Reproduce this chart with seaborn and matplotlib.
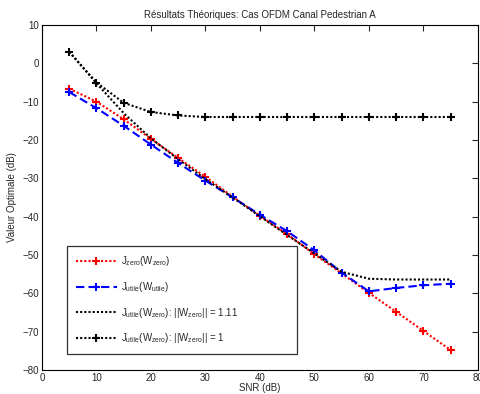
import numpy as np
import pandas as pd
import matplotlib
matplotlib.use('Agg')
import matplotlib.pyplot as plt
import seaborn as sns

# SNR points (dB)
snr = [5, 10, 15, 20, 25, 30, 35, 40, 45, 50, 55, 60, 65, 70, 75]

# optimal values (dB)
j_zero = [-6.6, -10.0, -14.6, -19.7, -24.7, -29.6, -34.8, -39.8, -44.6, -49.8, -54.8, -59.9, -64.8, -69.8, -74.8]
j_utile = [-7.5, -11.7, -16.3, -21.2, -26.0, -30.6, -35.0, -39.5, -43.8, -48.8, -54.6, -59.5, -58.6, -57.9, -57.5]
j_utile_w111 = [3.0, -5.2, -13.0, -19.6, -25.0, -30.2, -35.0, -39.9, -44.8, -49.6, -54.4, -56.2, -56.4, -56.4, -56.4]
j_utile_w1 = [3.0, -5.0, -10.3, -12.7, -13.6, -14.0, -14.0, -14.0, -14.0, -14.0, -14.0, -14.0, -14.0, -14.0, -14.0]

labels = [
    r'J$_{zero}$(W$_{zero}$)',
    r'J$_{utile}$(W$_{utile}$)',
    r'J$_{utile}$(W$_{zero}$): ||W$_{zero}$|| = 1.11',
    r'J$_{utile}$(W$_{zero}$): ||W$_{zero}$|| = 1',
]

sns.set_style('white')
plt.rcParams['font.family'] = ['Liberation Sans', 'DejaVu Sans']
plt.rcParams['mathtext.default'] = 'regular'
plt.rcParams['xtick.direction'] = 'in'
plt.rcParams['ytick.direction'] = 'in'

fig = plt.figure(figsize=(4.8, 3.94), dpi=100)
ax = fig.add_axes([0.0875, 0.061, 0.908, 0.8755])

series = [
    (j_zero, 'red', (0, (1, 1)), '+'),
    (j_utile, 'blue', (0, (4, 2)), '+'),
    (j_utile_w111, 'black', (0, (1, 1)), None),
    (j_utile_w1, 'black', (0, (1, 1)), '+'),
]
for (vals, col, ls, mk), lab in zip(series, labels):
    df = pd.DataFrame({'SNR': snr, 'val': vals})
    sns.lineplot(data=df, x='SNR', y='val', ax=ax, color=col, linestyle=ls,
                 marker=mk, markersize=6, markeredgewidth=1.5,
                 markeredgecolor=col, markerfacecolor=col, linewidth=1.5,
                 label=lab)

ax.set_xlim(0, 80)
ax.set_ylim(-80, 10)
ax.set_xticks(np.arange(0, 81, 10))
ax.set_yticks(np.arange(-80, 11, 10))
ax.tick_params(labelsize=7, length=4, width=0.8, top=True, right=True, pad=2)
for s in ax.spines.values():
    s.set_linewidth(0.8)
    s.set_color('black')

ax.set_title('Résultats Théoriques: Cas OFDM Canal Pedestrian A', fontsize=7, pad=5)
ax.set_xlabel('SNR (dB)', fontsize=7, labelpad=0)
ax.set_ylabel('Valeur Optimale (dB)', fontsize=7, labelpad=4)

leg = ax.legend(loc='lower left', bbox_to_anchor=(0.0573, 0.046, 0.5275, 0.304),
                mode='expand', fontsize=7, frameon=True, fancybox=False,
                edgecolor='black', handlelength=4.2, labelspacing=1.2,
                borderpad=0.9, borderaxespad=0, handletextpad=0.45)
leg.get_frame().set_linewidth(0.9)

fig.savefig('out.png', dpi=100)
